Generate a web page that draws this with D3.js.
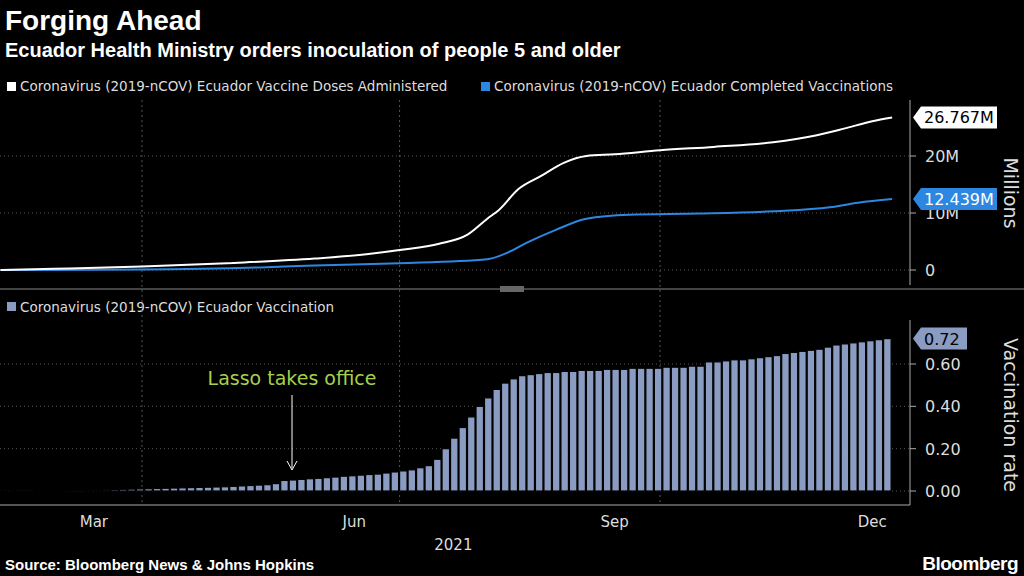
<!DOCTYPE html>
<html><head><meta charset="utf-8">
<script src="https://cdn.jsdelivr.net/npm/d3@7"></script>
<style>body{margin:0;background:#000}svg{display:block;font-family:"Liberation Sans",Arial,sans-serif}.dv{font-family:"DejaVu Sans",sans-serif}</style>
</head><body><svg id="c" width="1024" height="576"></svg>
<script>
// doses administered (millions)
var dosesDates = ["2021-02-10","2021-03-01","2021-04-01","2021-05-01","2021-06-01","2021-06-20","2021-07-01","2021-07-15","2021-07-25","2021-08-01","2021-08-05","2021-08-12","2021-08-20","2021-08-28","2021-09-05","2021-09-15","2021-10-01","2021-10-20","2021-11-10","2021-11-25","2021-12-05","2021-12-15","2021-12-22"]
var dosesValues = [0, 0.2, 0.6, 1.2, 2.0, 2.8, 3.5, 4.6, 6.2, 9.0, 10.5, 14.2, 16.5, 18.8, 20.0, 20.3, 21.0, 21.6, 22.4, 23.6, 24.8, 26.1, 26.767]
// completed vaccinations (millions)
var doneDates = ["2021-02-10","2021-04-01","2021-05-15","2021-06-01","2021-07-01","2021-08-01","2021-08-08","2021-08-15","2021-08-25","2021-09-05","2021-09-20","2021-10-15","2021-11-10","2021-11-30","2021-12-10","2021-12-22"]
var doneValues = [0, 0.1, 0.5, 0.8, 1.2, 1.9, 3.0, 4.8, 7.0, 9.0, 9.7, 9.9, 10.3, 11.0, 11.8, 12.439]
// vaccination rate, one bar every 3 days from start date
var rateStart = "2021-02-10"
var rateValues = [0,0,0.001,0.001,0.002,0.002,0.003,0.003,0.004,0.004,0.005,0.005,0.006,0.007,0.008,0.009,0.01,0.011,0.012,0.013,0.014,0.015,0.016,0.017,0.018,0.019,0.02,0.022,0.024,0.026,0.028,0.03,0.035,0.05,0.052,0.055,0.058,0.06,0.063,0.066,0.07,0.072,0.075,0.078,0.08,0.085,0.09,0.095,0.1,0.11,0.12,0.15,0.2,0.25,0.3,0.35,0.4,0.44,0.48,0.51,0.53,0.545,0.55,0.555,0.56,0.56,0.565,0.565,0.57,0.57,0.57,0.575,0.575,0.575,0.58,0.58,0.58,0.58,0.585,0.585,0.585,0.59,0.59,0.61,0.61,0.615,0.62,0.62,0.625,0.63,0.635,0.64,0.65,0.655,0.66,0.665,0.67,0.68,0.69,0.695,0.7,0.705,0.71,0.715,0.72]
var monthTicks = ["2021-03-15","2021-06-15","2021-09-15","2021-12-15"]
var monthLabels = ["Mar","Jun","Sep","Dec"]
var gridDates = ["2021-04-01","2021-07-01","2021-10-01"]
var millionTicks = [0,10,20]
var rateTicks = [0,0.2,0.4,0.6]

var P = d3.timeParse("%Y-%m-%d")
var svg = d3.select("#c")
var W = 910

var x = d3.scaleTime().domain([P("2021-04-01"), P("2021-10-01")]).range([142, 660])
var y1 = d3.scaleLinear().domain([0, 20]).range([270, 156])
var y2 = d3.scaleLinear().domain([0, 0.6]).range([491, 364])

svg.append("rect").attr("width",1024).attr("height",576).attr("fill","#000")

// titles
svg.append("text").attr("x",5).attr("y",30).attr("fill","#fff").attr("font-size",28).attr("font-weight","bold").text("Forging Ahead")
svg.append("text").attr("x",5).attr("y",57).attr("fill","#fff").attr("font-size",20).attr("font-weight","bold").text("Ecuador Health Ministry orders inoculation of people 5 and older")

// legends
svg.append("rect").attr("x",7).attr("y",82).attr("width",9).attr("height",9).attr("fill","#fff")
svg.append("text").attr("class","dv").attr("x",20).attr("y",91).attr("fill","#ddd").attr("font-size",13.5).text("Coronavirus (2019-nCOV) Ecuador Vaccine Doses Administered")
svg.append("rect").attr("x",481).attr("y",82).attr("width",9).attr("height",9).attr("fill","#2d87e0")
svg.append("text").attr("class","dv").attr("x",494).attr("y",91).attr("fill","#ddd").attr("font-size",13.5).text("Coronavirus (2019-nCOV) Ecuador Completed Vaccinations")
svg.append("rect").attr("x",7).attr("y",302).attr("width",9).attr("height",9).attr("fill","#8a9cc2")
svg.append("text").attr("class","dv").attr("x",20).attr("y",312).attr("fill","#ddd").attr("font-size",13.5).text("Coronavirus (2019-nCOV) Ecuador Vaccination")

// vertical grid
gridDates.forEach(function(d){
  svg.append("line").attr("x1",x(P(d))).attr("x2",x(P(d))).attr("y1",100).attr("y2",505)
    .attr("stroke","#555").attr("stroke-dasharray","2,3")
})
// horizontal grid
millionTicks.forEach(function(t){
  svg.append("line").attr("x1",0).attr("x2",W).attr("y1",y1(t)).attr("y2",y1(t)).attr("stroke","#555").attr("stroke-dasharray","1,3")
  svg.append("line").attr("x1",W).attr("x2",W+6).attr("y1",y1(t)).attr("y2",y1(t)).attr("stroke","#aaa")
  svg.append("text").attr("class","dv").attr("x",925).attr("y",y1(t)+6).attr("fill","#ddd").attr("font-size",16).text(t==0?"0":t+"M")
})
rateTicks.forEach(function(t){
  svg.append("line").attr("x1",0).attr("x2",W).attr("y1",y2(t)).attr("y2",y2(t)).attr("stroke","#555").attr("stroke-dasharray","1,3")
  svg.append("line").attr("x1",W).attr("x2",W+6).attr("y1",y2(t)).attr("y2",y2(t)).attr("stroke","#aaa")
  svg.append("text").attr("class","dv").attr("x",925).attr("y",y2(t)+6).attr("fill","#ddd").attr("font-size",16).text(t.toFixed(2))
})
// axis borders
svg.append("line").attr("x1",W).attr("x2",W).attr("y1",100).attr("y2",285).attr("stroke","#aaa")
svg.append("line").attr("x1",W).attr("x2",W).attr("y1",320).attr("y2",505).attr("stroke","#aaa")
svg.append("line").attr("x1",0).attr("x2",W).attr("y1",505).attr("y2",505).attr("stroke","#aaa")
// separator
svg.append("line").attr("x1",0).attr("x2",1024).attr("y1",289).attr("y2",289).attr("stroke","#444").attr("stroke-width",2)
svg.append("rect").attr("x",500).attr("y",286).attr("width",24).attr("height",6).attr("fill","#666")

svg.append("text").attr("class","dv").attr("transform","translate(1004,193) rotate(90)").attr("text-anchor","middle").attr("fill","#ddd").attr("font-size",19).text("Millions")
svg.append("text").attr("class","dv").attr("transform","translate(1004,415) rotate(90)").attr("text-anchor","middle").attr("fill","#ddd").attr("font-size",19).text("Vaccination rate")

// bars
var rs = P(rateStart)
var bars = rateValues.map(function(v,i){ return {d:d3.timeDay.offset(rs,i*3), v:v} })
svg.selectAll(".bar").data(bars).enter().append("rect")
  .attr("x",function(d){return x(d.d)}).attr("width",7.5)
  .attr("y",function(d){return y2(d.v)}).attr("height",function(d){return Math.max(1,y2(0)-y2(d.v))})
  .attr("fill","#8a9cc2").attr("stroke","#000").attr("stroke-width",1.2)

// lines
var lineGen = d3.line().x(function(d){return x(d[0])}).y(function(d){return y1(d[1])}).curve(d3.curveMonotoneX)
var dosesData = dosesDates.map(function(d,i){return [P(d), dosesValues[i]]})
var doneData = doneDates.map(function(d,i){return [P(d), doneValues[i]]})
svg.append("path").attr("d",lineGen(doneData)).attr("fill","none").attr("stroke","#2d87e0").attr("stroke-width",2)
svg.append("path").attr("d",lineGen(dosesData)).attr("fill","none").attr("stroke","#fff").attr("stroke-width",2)

// value tags
function tag(yv, txt, bg, fg){
  var w = txt.length*10+6
  svg.append("path").attr("d","M913,"+yv+"L921,"+(yv-11)+"H"+(921+w)+"V"+(yv+11)+"H921Z").attr("fill",bg)
  svg.append("text").attr("class","dv").attr("x",924).attr("y",yv+6).attr("fill",fg).attr("font-size",16).text(txt)
}
tag(y1(26.767),"26.767M","#fff","#000")
tag(y1(12.439),"12.439M","#2d87e0","#fff")
tag(y2(0.72),"0.72","#8a9cc2","#000")

// annotation
var ax = x(P("2021-05-24"))
svg.append("text").attr("class","dv").attr("x",ax).attr("y",385).attr("text-anchor","middle").attr("fill","#a6d04b").attr("font-size",19).text("Lasso takes office")
svg.append("line").attr("x1",ax).attr("x2",ax).attr("y1",395).attr("y2",468).attr("stroke","#fff")
svg.append("path").attr("d","M"+(ax-5)+",461L"+ax+",470L"+(ax+5)+",461").attr("fill","none").attr("stroke","#fff")

// x labels
monthTicks.forEach(function(d,i){
  svg.append("text").attr("class","dv").attr("x",x(P(d))).attr("y",527).attr("text-anchor","middle").attr("fill","#ddd").attr("font-size",15).text(monthLabels[i])
})
svg.append("text").attr("class","dv").attr("x",x(P("2021-07-20"))).attr("y",550).attr("text-anchor","middle").attr("fill","#ddd").attr("font-size",15).text("2021")

svg.append("text").attr("x",5).attr("y",570).attr("fill","#fff").attr("font-size",15).attr("font-weight","bold").text("Source: Bloomberg News & Johns Hopkins")
svg.append("text").attr("x",1018).attr("y",570).attr("text-anchor","end").attr("fill","#fff").attr("font-size",19).attr("font-weight","bold").attr("letter-spacing",-0.5).text("Bloomberg")
</script></body></html>
